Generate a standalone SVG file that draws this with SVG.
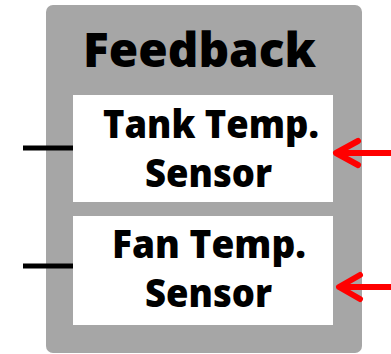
<svg xmlns="http://www.w3.org/2000/svg" width="391" height="354" viewBox="0 0 391 354">
  <style>
    .panel { fill: #a6a6a6; }
    .box { fill: #ffffff; }
    .title { font-family: "Open Sans", "Noto Sans", sans-serif; font-weight: 800; font-size: 48px; fill: #000; }
    .lbl { font-family: "Open Sans", "Noto Sans", sans-serif; font-weight: 800; font-size: 39px; fill: #000; }
    .wire { stroke: #000; stroke-width: 5; fill: none; }
    .sig { stroke: #ff0000; stroke-width: 6; fill: none; stroke-linecap: round; stroke-linejoin: round; }
  </style>
  <g id="feedback">
    <rect class="panel" x="46" y="5" width="316" height="348" rx="7"/>
    <text class="title" x="83" y="67" textLength="233" lengthAdjust="spacingAndGlyphs">Feedback</text>
  </g>
  <g id="tank-sensor">
    <rect class="box" x="73" y="95" width="260" height="107"/>
    <text class="lbl" x="103" y="138" textLength="216" lengthAdjust="spacingAndGlyphs">Tank Temp.</text>
    <text class="lbl" x="145" y="187" textLength="127" lengthAdjust="spacingAndGlyphs">Sensor</text>
  </g>
  <g id="fan-sensor">
    <rect class="box" x="73" y="216" width="260" height="109"/>
    <text class="lbl" x="112" y="258" textLength="194" lengthAdjust="spacingAndGlyphs">Fan Temp.</text>
    <text class="lbl" x="145" y="307" textLength="127" lengthAdjust="spacingAndGlyphs">Sensor</text>
  </g>
  <g id="connectors">
    <line class="wire" x1="23" y1="148" x2="73" y2="148"/>
    <line class="wire" x1="23" y1="266" x2="73" y2="266"/>
    <path class="sig" d="M391 153 H338 M358 141 L336 153 L358 165"/>
    <path class="sig" d="M391 287 H341 M360 275 L339 287 L360 299"/>
  </g>
</svg>
